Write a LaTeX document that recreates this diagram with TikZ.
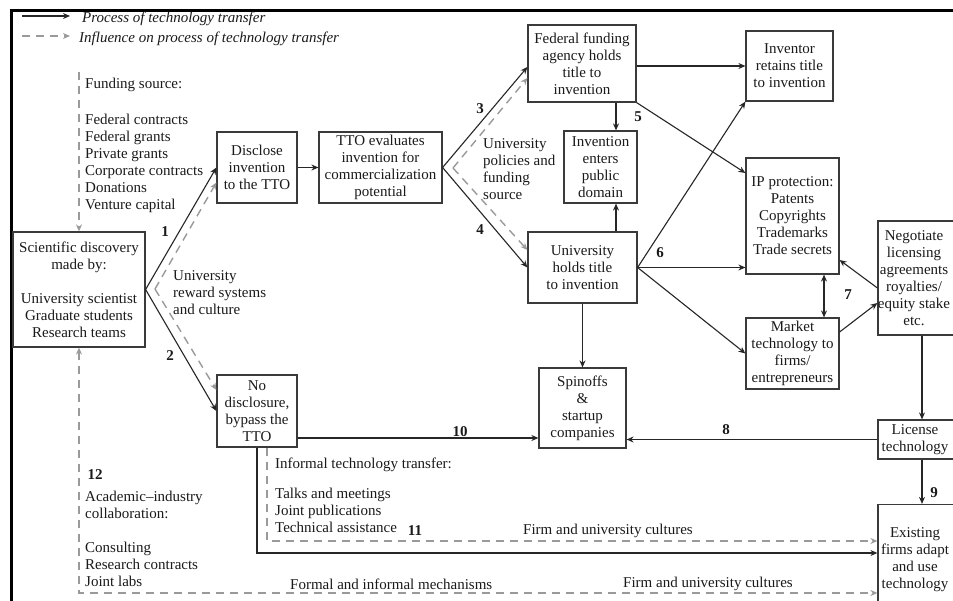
\documentclass[tikz,border=0pt]{standalone}
\usepackage{fontspec}
\setmainfont{Liberation Serif}
\usetikzlibrary{arrows.meta}
\definecolor{boxline}{HTML}{3A3A3A}
\definecolor{flowline}{HTML}{262626}
\definecolor{inflgray}{HTML}{9A9A9A}
\definecolor{ink}{HTML}{1A1A1A}

\begin{document}
\begin{tikzpicture}[x=1pt,y=-1pt,
  font=\fontsize{15}{17}\selectfont, text=ink,
  stagebox/.style={draw=boxline, line width=1.2pt, fill=white, align=center, inner sep=1pt, anchor=center},
  stagetext/.style={align=center, inner sep=0pt, anchor=center},
  flow/.style={draw=flowline, line width=1.1pt, -{Stealth[length=7pt,width=6pt]}},
  flowboth/.style={draw=flowline, line width=1.1pt, {Stealth[length=7pt,width=6pt]}-{Stealth[length=7pt,width=6pt]}},
  infl/.style={draw=inflgray, line width=1.4pt, dash pattern=on 8pt off 6pt, -{Stealth[length=7pt,width=6pt]}},
  inflboth/.style={draw=inflgray, line width=1.4pt, dash pattern=on 8pt off 6pt, {Stealth[length=7pt,width=6pt]}-{Stealth[length=7pt,width=6pt]}},
  note/.style={anchor=north west, align=left, inner sep=0pt},
  tag/.style={anchor=west, inner sep=0pt},
  num/.style={font=\fontsize{15}{17}\selectfont\bfseries, inner sep=0pt},
]
\useasboundingbox (0,0) rectangle (953,601);
\clip (0,0) rectangle (953,601);
\fill[white] (0,0) rectangle (953,601);

% outer frame
\draw[line width=3pt, black] (11,610) -- (11,11) -- (960,11);

% legend
\coordinate (lgA1) at (22,16);
\coordinate (lgA2) at (70,16);
\coordinate (lgB1) at (22,36);
\coordinate (lgB2) at (70,36);
\draw[flow] (lgA1) -- (lgA2);
\draw[infl] (lgB1) -- (lgB2);
\node[tag, font=\fontsize{15}{17}\selectfont\itshape] (lgtA) at (82,19) {Process of technology transfer};
\node[tag, font=\fontsize{15}{17}\selectfont\itshape] (lgtB) at (79,39) {Influence on process of technology transfer};

% stages
\node[stagebox, minimum width=132pt, minimum height=115pt] (sci) at (79,289.5)
  {Scientific discovery\\made by:\\[17pt]University scientist\\Graduate students\\Research teams};
\node[stagebox, minimum width=80pt, minimum height=71pt] (disclose) at (257,167.5)
  {Disclose\\invention\\to the TTO};
\node[stagebox, minimum width=123pt, minimum height=71pt] (tto) at (380.5,167.5)
  {TTO evaluates\\invention for\\commercialization\\potential};
\node[stagebox, minimum width=108pt, minimum height=77pt] (fed) at (582,63.5)
  {Federal funding\\agency holds\\title to\\invention};
\node[stagebox, minimum width=87pt, minimum height=70pt] (inv) at (789.5,66)
  {Inventor\\retains title\\to invention};
\node[stagebox, minimum width=73pt, minimum height=72pt] (pub) at (600.5,167)
  {Invention\\enters\\public\\domain};
\node[stagebox, minimum width=109pt, minimum height=71pt] (uni) at (582.5,267.5)
  {University\\holds title\\to invention};
\node[stagebox, minimum width=93pt, minimum height=116pt] (ip) at (792.5,216)
  {IP protection:\\Patents\\Copyrights\\Trademarks\\Trade secrets};
\node[stagebox, minimum width=93pt, minimum height=71pt] (mkt) at (792.5,353.5)
  {Market\\technology to\\firms/\\entrepreneurs};
\node[stagebox, minimum width=87pt, minimum height=80pt] (spin) at (582.5,408)
  {Spinoffs\\\&\\startup\\companies};
\node[stagebox, minimum width=80pt, minimum height=72pt] (nod) at (257,411)
  {No\\disclosure,\\bypass the\\TTO};

% right-hand column: boxes run on past the frame edge
\node[stagebox, minimum width=90pt, minimum height=114pt] (neg) at (923,278) {};
\node[stagebox, minimum width=90pt, minimum height=39pt] (lic) at (923,439.5) {};
\node[stagebox, minimum width=90pt, minimum height=115pt] (ext) at (923,562) {};
\node[stagebox, draw=none, fill=none, minimum width=0pt, minimum height=0pt] (negtext) at (914,278)
  {Negotiate\\licensing\\agreements\\royalties/\\equity stake\\etc.};
\node[stagebox, draw=none, fill=none, minimum width=0pt, minimum height=0pt] (lictext) at (915,439.5)
  {License\\technology};
\node[stagebox, draw=none, fill=none, minimum width=0pt, minimum height=0pt] (exttext) at (915,560)
  {Existing\\firms adapt\\and use\\technology};

% free text
\node[note] (fund) at (85,76)
  {\strut Funding source:\\[19pt]Federal contracts\\Federal grants\\Private grants\\Corporate contracts\\Donations\\Venture capital};
\node[note] (reward) at (173,268) {\strut University\\reward systems\\and culture};
\node[note] (policy) at (483,136) {\strut University\\policies and\\funding\\source};
\node[note] (informal) at (275,456)
  {\strut Informal technology transfer:\\[13pt]Talks and meetings\\Joint publications\\Technical assistance};
\node[note] (acad) at (85,489)
  {\strut Academic--industry\\collaboration:\\[17pt]Consulting\\Research contracts\\Joint labs};
\node[tag] (cultA) at (523,531) {Firm and university cultures};
\node[tag] (cultB) at (623,584) {Firm and university cultures};
\node[tag] (mech) at (290,584) {Formal and informal mechanisms};

% step numbers
\node[num] (n1) at (165,232) {1};
\node[num] (n2) at (170,356) {2};
\node[num] (n3) at (480,109) {3};
\node[num] (n4) at (480,230) {4};
\node[num] (n5) at (638,117) {5};
\node[num] (n6) at (660,253) {6};
\node[num] (n7) at (848,295) {7};
\node[num] (n8) at (726,430) {8};
\node[num] (n9) at (934,493) {9};
\node[num] (n10) at (460,432) {10};
\node[num] (n11) at (415,531) {11};
\node[num] (n12) at (95,475) {12};

% helper points
\coordinate (fundtop) at (79,72);
\coordinate (v1) at (155,289);
\coordinate (v2) at (453,168);
\coordinate (colA) at (616,0);
\coordinate (colB) at (824,0);
\coordinate (colC) at (922,0);

% influences
\draw[infl] (fundtop) -- (sci.north);
\draw[inflboth] (sci.south) |- ([yshift=-31pt]ext.west);
\draw[infl] (v1) -- ([yshift=-15pt]disclose.west);
\draw[infl] (v1) -- ([yshift=21pt]nod.west);
\draw[infl] (v2) -- ([yshift=-14.5pt]fed.west);
\draw[infl] (v2) -- ([yshift=17.5pt]uni.west);
\draw[infl] ([xshift=10pt]nod.south) |- ([yshift=21pt]ext.west);

% process of transfer
\draw[flow] (sci.east) -- (disclose.west);
\draw[flow] (sci.east) -- (nod.west);
\draw[flow] (disclose) -- (tto);
\draw[flow] (tto.east) -- ([yshift=-3.5pt]fed.west);
\draw[flow] (tto.east) -- (uni.west);
\draw[flow] (fed.east |- inv.west) -- (inv.west);
\draw[flow] (fed.south east) -- ([yshift=43pt]ip.west);
\draw[flow] (fed.south -| colA) -- (pub.north -| colA);
\draw[flow] (uni.north -| colA) -- (pub.south -| colA);
\draw[flow] (uni.east) -- (uni.east -| ip.west);
\draw[flow] (uni.east) -- (inv.south west);
\draw[flow] (uni.east) -- (mkt.west);
\draw[flow] (uni.south) -- (spin.north);
\draw[flowboth] (ip.south -| colB) -- (mkt.north -| colB);
\draw[flow] ([yshift=-10pt]neg.west) -- ([yshift=-44pt]ip.east);
\draw[flow] ([yshift=21.5pt]mkt.east) -- ([yshift=-25pt]neg.west);
\draw[flow] (neg.south -| colC) -- (lic.north -| colC);
\draw[flow] (lic.west) -- (lic.west -| spin.east);
\draw[flow] ([yshift=-27pt]nod.east) -- ([yshift=-27pt]nod.east -| spin.west);
\draw[flow] (lic.south -| colC) -- (ext.north -| colC);
\draw[flow] (nod.south) |- ([yshift=9pt]ext.west);
\end{tikzpicture}
\end{document}
